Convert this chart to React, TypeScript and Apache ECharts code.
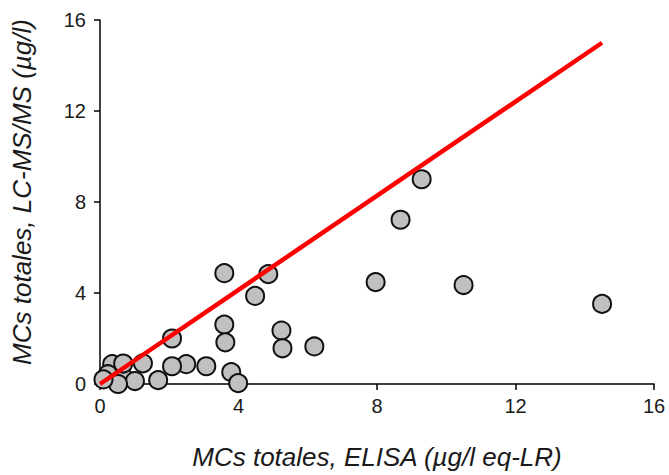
import React, { useEffect, useRef } from "react";
import * as echarts from "echarts";

const elisa = [14.5, 10.5, 7.96, 8.68, 9.29, 4.86, 3.59, 4.48, 3.59, 3.62, 5.24, 5.27, 6.19, 2.08, 3.79, 3.99, 3.07, 2.49, 2.08, 1.68, 1.24, 0.35, 0.23, 0.67, 1.01, 0.52, 0.1, 0.67];
const lcms = [3.52, 4.35, 4.48, 7.22, 9.0, 4.83, 4.87, 3.87, 2.61, 1.83, 2.35, 1.57, 1.65, 2.0, 0.52, 0.04, 0.78, 0.87, 0.78, 0.17, 0.91, 0.87, 0.43, 0.3, 0.13, 0.0, 0.2, 0.9];
const lineX = [0, 14.5];
const lineY = [0, 15];
const ticks = [0, 4, 8, 12, 16];

export default function App() {
  const ref = useRef<HTMLDivElement>(null);
  useEffect(() => {
    const chart = echarts.init(ref.current!, null, { renderer: "svg" });
    const font = "'Liberation Sans', Arial, sans-serif";
    const axisCommon = {
      min: ticks[0],
      max: ticks[ticks.length - 1],
      interval: 4,
      splitLine: { show: false },
      axisLine: { show: true, lineStyle: { color: "#000", width: 1.5 } },
      axisTick: { show: true, inside: false, length: 6, lineStyle: { color: "#000", width: 1.5 } },
      axisLabel: { color: "#1a1a1a", fontSize: 20, fontFamily: font, margin: 14 },
      nameLocation: "middle" as const,
      nameTextStyle: { color: "#1a1a1a", fontSize: 26, fontStyle: "italic", fontFamily: font },
    };
    chart.setOption({
      animation: false,
      backgroundColor: "#fff",
      grid: { left: 100, right: 15, top: 20, bottom: 87, containLabel: false },
      xAxis: { type: "value", ...axisCommon, name: "MCs totales, ELISA (µg/l eq-LR)", nameGap: 60, axisLabel: { ...axisCommon.axisLabel, margin: 12 } },
      yAxis: {
        type: "value",
        ...axisCommon,
        name: "MCs totales, LC-MS/MS (µg/l)",
        nameGap: 65,
        nameTextStyle: { ...axisCommon.nameTextStyle, padding: [0, 0, 0, 20] },
      },
      series: [
        {
          type: "scatter",
          data: elisa.map((x, i) => [x, lcms[i]]),
          symbol: "circle",
          symbolSize: 18,
          itemStyle: { color: "#c0c0c0", borderColor: "#111", borderWidth: 2, opacity: 1 },
          z: 2,
        },
        {
          type: "line",
          data: lineX.map((x, i) => [x, lineY[i]]),
          showSymbol: false,
          symbol: "none",
          lineStyle: { color: "#ff0000", width: 4.5 },
          z: 3,
        },
      ],
    });
    return () => chart.dispose();
  }, []);
  return <div ref={ref} style={{ position: "absolute", left: 0, top: 0, width: 669, height: 475 }} />;
}
